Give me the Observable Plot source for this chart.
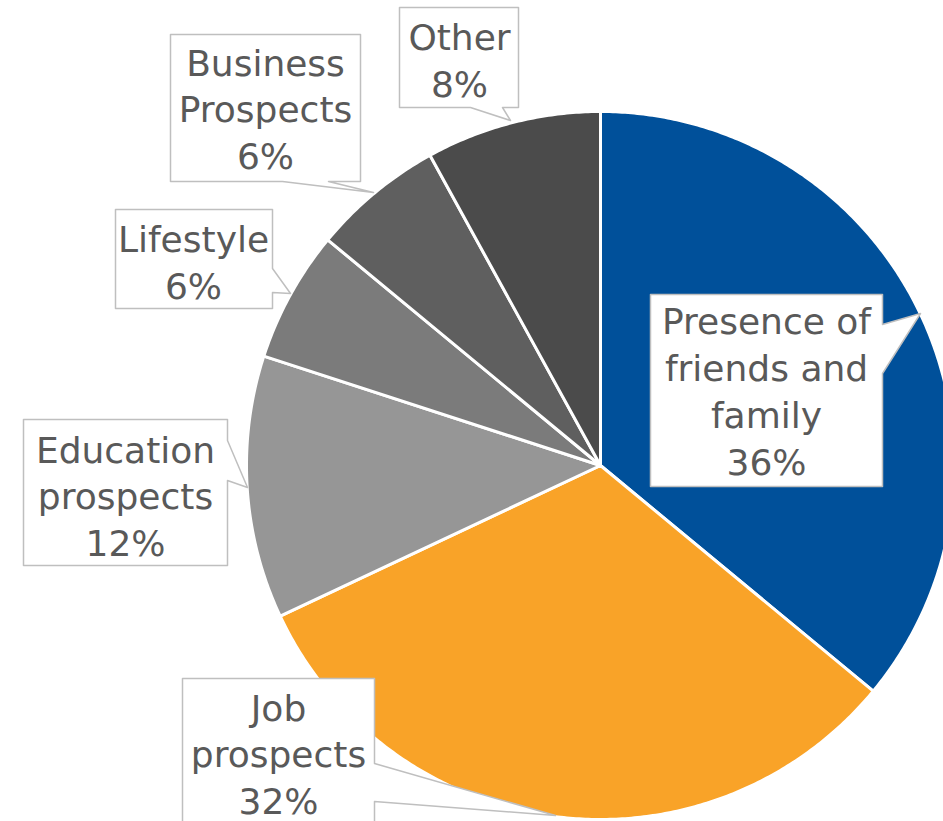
<!DOCTYPE html>
<html>
<head>
<meta charset="utf-8">
<script src="https://cdn.jsdelivr.net/npm/d3@7"></script>
<script src="https://cdn.jsdelivr.net/npm/@observablehq/plot@0.6"></script>
<style>
  html, body { margin: 0; padding: 0; background: #ffffff; }
  #chart { width: 943px; height: 821px; overflow: hidden; }
</style>
</head>
<body>
<div id="chart"></div>
<script>
// ---- data ----
const categories = ["Presence of friends and family", "Job prospects", "Education prospects", "Lifestyle", "Business Prospects", "Other"];
const labelLines = ["Presence of\nfriends and\nfamily", "Job\nprospects", "Education\nprospects", "Lifestyle", "Business\nProspects", "Other"];
const values = [36, 32, 12, 6, 6, 8];
const colors = ["#00509A", "#F9A328", "#969696", "#7B7B7B", "#5F5F5F", "#4B4B4B"];

// ---- layout (pixels) ----
const W = 943, H = 821;
const cx = 600, cy = 465, R = 354;
// callout boxes: [left, top, right, bottom], pointer edge, base a/b along edge, tip
const callouts = {
  "Presence of friends and family": {box: [650, 294, 882, 486], edge: "right", base: [324, 373], tip: [920, 313], ty: 389, tx: 766},
  "Job prospects": {box: [182, 678, 374, 860], edge: "right", base: [763, 801], tip: [555, 815], ty: 752, tx: 278},
  "Education prospects": {box: [23, 419, 227, 565], edge: "right", base: [440, 480], tip: [247, 487], ty: 494, tx: 125},
  "Lifestyle": {box: [115, 209, 272, 308], edge: "right", base: [268, 292], tip: [290, 293], ty: 260, tx: 193},
  "Business Prospects": {box: [170, 34, 360, 181], edge: "bottom", base: [328, 282], tip: [373, 192], ty: 107, tx: 265},
  "Other": {box: [399, 7, 518, 107], edge: "bottom", base: [502, 470], tip: [510, 120], ty: 58, tx: 459}
};

// ---- pie geometry from values ----
const pie = d3.pie().sort(null).value(d => d.value).startAngle(0).endAngle(2 * Math.PI);
const arcs = pie(categories.map((c, i) => ({category: c, value: values[i]})));
const slicePts = [];
for (const a of arcs) {
  const cat = a.data.category;
  slicePts.push({category: cat, x: cx, y: cy});
  const n = Math.max(2, Math.ceil((a.endAngle - a.startAngle) / (Math.PI / 360)));
  for (let k = 0; k <= n; k++) {
    const t = a.startAngle + (a.endAngle - a.startAngle) * k / n;
    slicePts.push({category: cat, x: cx + R * Math.sin(t), y: cy - R * Math.cos(t)});
  }
}

// ---- callout polygons ----
const calloutPts = [];
const textRows = [];
categories.forEach((c, i) => {
  const o = callouts[c];
  const [l, t, r, b] = o.box;
  let pts;
  if (o.edge === "right") {
    pts = [[l, t], [r, t], [r, o.base[0]], o.tip, [r, o.base[1]], [r, b], [l, b]];
  } else {
    pts = [[l, t], [r, t], [r, b], [o.base[0], b], o.tip, [o.base[1], b], [l, b]];
  }
  pts.forEach(p => calloutPts.push({category: c, x: p[0], y: p[1]}));
  textRows.push({category: c, x: o.tx, y: o.ty, text: `${labelLines[i]}\n${values[i]}%`});
});

const chart = Plot.plot({
  width: W,
  height: H,
  margin: 0,
  x: {domain: [0, W], range: [0, W], axis: null},
  y: {domain: [0, H], range: [0, H], axis: null},
  color: {domain: categories, range: colors},
  style: {background: "#ffffff"},
  marks: [
    Plot.line(slicePts, {x: "x", y: "y", z: "category", fill: "category", stroke: "#ffffff", strokeWidth: 3, curve: "linear-closed", strokeLinejoin: "round"}),
    Plot.line(calloutPts, {x: "x", y: "y", z: "category", fill: "#ffffff", stroke: "#BFBFBF", strokeWidth: 1.5, curve: "linear-closed"}),
    Plot.text(textRows, {x: "x", y: "y", text: "text", fill: "#595959", fontSize: 36, lineHeight: 1.3, fontFamily: "DejaVu Sans", textAnchor: "middle"})
  ]
});
document.getElementById("chart").appendChild(chart);
</script>
</body>
</html>
